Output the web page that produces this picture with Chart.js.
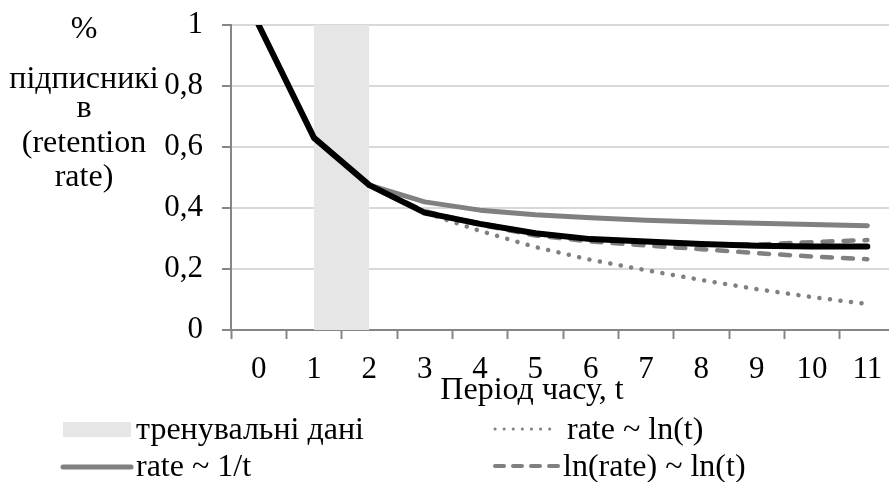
<!DOCTYPE html>
<html>
<head>
<meta charset="utf-8">
<script src="https://cdn.jsdelivr.net/npm/chart.js@4/dist/chart.umd.min.js"></script>
<style>
  html, body { margin: 0; padding: 0; background: #fff; overflow: hidden; }
  #wrap { width: 896px; height: 482px; }
</style>
</head>
<body>
<div id="wrap"><canvas id="c" width="896" height="482"></canvas></div>
<script>
// ---- data ----
const categories = ['0','1','2','3','4','5','6','7','8','9','10','11'];
const yTicks = [0, 0.2, 0.4, 0.6, 0.8, 1];
const actualRate   = [1, 0.63, 0.475, 0.385, 0.348, 0.317, 0.298, 0.29, 0.282, 0.276, 0.274, 0.274];
const trainingBand = [null, 1, 1, null, null, null, null, null, null, null, null, null];
const rateInvT     = [null, null, 0.475, 0.42, 0.393, 0.378, 0.368, 0.36, 0.354, 0.35, 0.346, 0.342];
const rateLnT      = [null, null, 0.475, 0.385, 0.325, 0.272, 0.23, 0.196, 0.164, 0.134, 0.108, 0.085];
const lnRateLnT    = [null, null, 0.475, 0.39, 0.345, 0.31, 0.29, 0.277, 0.265, 0.252, 0.241, 0.232];
const otherModel   = [null, null, 0.475, 0.385, 0.35, 0.318, 0.298, 0.287, 0.281, 0.28, 0.288, 0.295];
const labels = {
  training: 'тренувальні дані',
  lnT: 'rate ~ ln(t)',
  invT: 'rate ~ 1/t',
  power: 'ln(rate) ~ ln(t)',
  xTitle: 'Період часу, t',
  yTitle: ['%', 'підписникі', 'в', '(retention', 'rate)']
};

const FONT = "'Liberation Serif', 'Times New Roman', serif";
const GRAY = '#808080';
const BAND = '#e6e6e6';
const AXIS = '#868686';

const titlesAndLegend = {
  id: 'titlesAndLegend',
  afterDraw(chart) {
    const ctx = chart.ctx;
    ctx.save();
    ctx.fillStyle = '#000';
    ctx.font = '32px ' + FONT;
    ctx.textAlign = 'center';
    ctx.textBaseline = 'alphabetic';
    const yBase = [38, 88, 117, 152, 186];
    labels.yTitle.forEach((t, i) => ctx.fillText(t, 84, yBase[i]));
    ctx.fillText(labels.xTitle, 532, 399);
    ctx.textAlign = 'left';
    ctx.textBaseline = 'middle';
    ctx.fillStyle = BAND;
    ctx.fillRect(63, 422, 68, 15);
    ctx.fillStyle = '#000';
    ctx.fillText(labels.training, 136, 431);
    ctx.strokeStyle = GRAY; ctx.lineCap = 'round';
    ctx.lineWidth = 5; ctx.setLineDash([]);
    ctx.beginPath(); ctx.moveTo(63, 467); ctx.lineTo(131, 467); ctx.stroke();
    ctx.fillText(labels.invT, 136, 468);
    ctx.lineWidth = 3; ctx.setLineDash([0.1, 9]);
    ctx.beginPath(); ctx.moveTo(495, 429); ctx.lineTo(550, 429); ctx.stroke();
    ctx.fillText(labels.lnT, 567, 431);
    ctx.lineWidth = 4; ctx.setLineDash([9, 9]);
    ctx.beginPath(); ctx.moveTo(495, 466); ctx.lineTo(561, 466); ctx.stroke();
    ctx.fillText(labels.power, 563, 468);
    ctx.restore();
  }
};

new Chart(document.getElementById('c'), {
  type: 'line',
  data: {
    labels: categories,
    datasets: [
      { label: 'actual', data: actualRate, borderColor: '#000', borderWidth: 6, order: 0 },
      { label: labels.invT, data: rateInvT, borderColor: GRAY, borderWidth: 5, order: 2 },
      { label: labels.power, data: lnRateLnT, borderColor: GRAY, borderWidth: 4.5, borderDash: [10, 11], order: 3 },
      { label: 'other', data: otherModel, borderColor: GRAY, borderWidth: 4.5, borderDash: [10, 11], order: 4 },
      { label: labels.lnT, data: rateLnT, borderColor: GRAY, borderWidth: 4.5, borderDash: [0.1, 10.5], order: 5 },
      { label: labels.training, data: trainingBand, borderWidth: 0, borderColor: 'rgba(0,0,0,0)', backgroundColor: BAND, fill: 'origin', order: 10 }
    ]
  },
  options: {
    responsive: false,
    animation: false,
    devicePixelRatio: 1,
    layout: { padding: { left: 0, top: 25, right: 1, bottom: 92 } },
    elements: {
      point: { radius: 0, hoverRadius: 0 },
      line: { tension: 0, borderCapStyle: 'round', borderJoinStyle: 'round', fill: false }
    },
    plugins: { legend: { display: false }, tooltip: { enabled: false } },
    scales: {
      x: {
        type: 'category',
        offset: true,
        afterFit(s) { s.height = 60; s.paddingLeft = 0; s.paddingRight = 0; },
        grid: { offset: true, drawOnChartArea: false, drawTicks: true, tickLength: 9, tickColor: AXIS, tickWidth: 2 },
        border: { color: AXIS, width: 2 },
        ticks: { color: '#000', font: { family: FONT, size: 31 }, padding: 12, maxRotation: 0, autoSkip: false }
      },
      y: {
        min: 0, max: 1,
        afterFit(s) { s.width = 231; s.paddingTop = 0; s.paddingBottom = 0; },
        afterBuildTicks(s) { s.ticks = yTicks.map(v => ({ value: v })); },
        grid: { color: '#d9d9d9', lineWidth: 2, tickLength: 9, tickColor: AXIS, tickWidth: 2 },
        border: { color: AXIS, width: 2 },
        ticks: { color: '#000', font: { family: FONT, size: 31 }, padding: 19,
                 callback: v => String(v).replace('.', ',') }
      }
    }
  },
  plugins: [titlesAndLegend]
});
</script>
</body>
</html>
